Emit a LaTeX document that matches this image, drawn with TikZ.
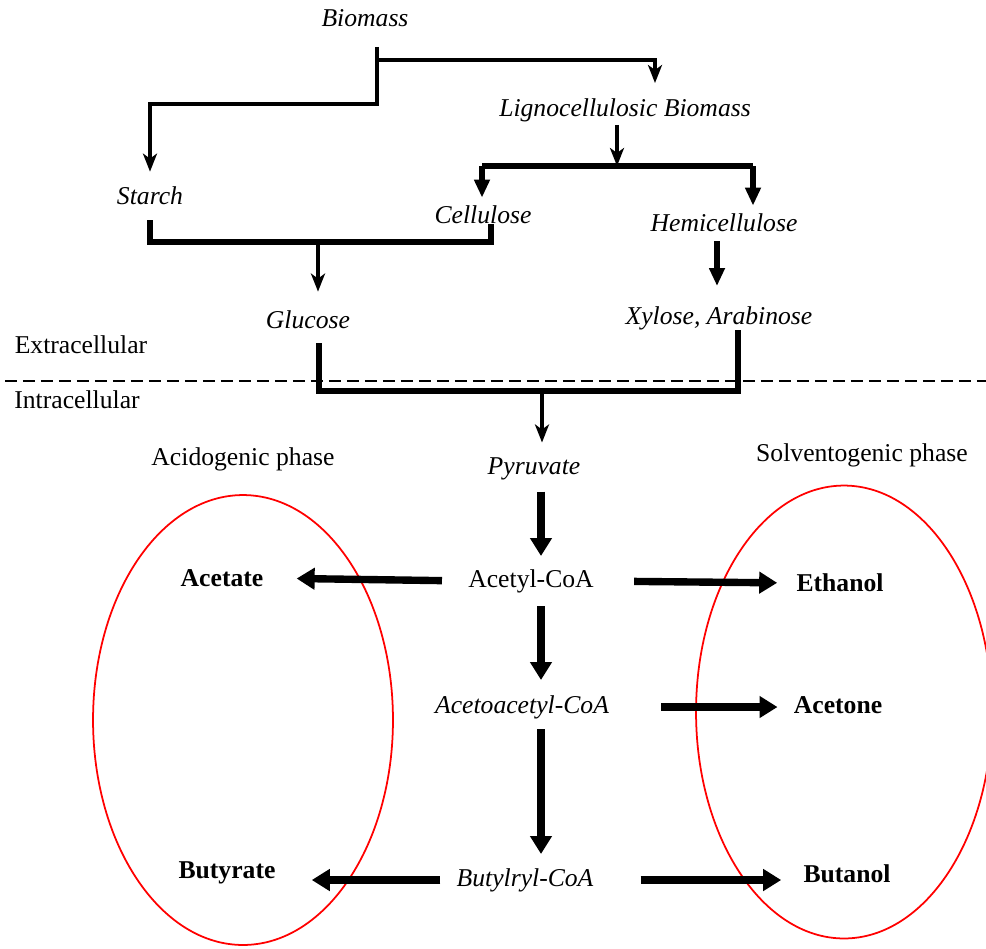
\documentclass[tikz,border=0pt]{standalone}
\usepackage{fontspec}
\setmainfont{Liberation Serif}
\usetikzlibrary{arrows.meta}

\begin{document}
\begin{tikzpicture}[x=0.02cm, y=-0.02cm,
  every node/.style={inner sep=0pt, font=\fontsize{14.6}{16}\selectfont},
  sub/.style={font=\fontsize{14.6}{16}\selectfont\itshape},
  prod/.style={font=\fontsize{14.6}{16}\selectfont\bfseries},
  thinflow/.style={line width=2.5pt, -{Stealth[length=0.36cm, width=0.28cm, inset=0.1cm]}},
  midflow/.style={line width=2.9pt, -{Triangle[length=0.36cm, width=0.3cm]}},
  fatflow/.style={line width=4.2pt, -{Triangle[length=0.36cm, width=0.42cm]}},
  bar/.style={line width=2.9pt},
  phase/.style={draw=red, line width=1pt}]
\useasboundingbox (0,0) rectangle (986,948);

% substrates
\node[sub] (biomass) at (365,18) {Biomass};
\node[sub] (ligno) at (625,110) {Lignocellulosic Biomass};
\node[sub] (starch) at (150,196) {Starch};
\node[sub] (cellulose) at (483,215) {Cellulose};
\node[sub] (hemi) at (724,223) {Hemicellulose};
\node[sub] (glucose) at (308,320) {Glucose};
\node[sub] (xylose) at (719,318) {Xylose, Arabinose};

% compartments
\node (extra) at (81,345) {Extracellular};
\node (intra) at (77,400) {Intracellular};
\draw[line width=1.6pt, dash pattern=on 0.24cm off 0.12cm] (5,381) -- (986,381);

% phases
\node (acido) at (243,459) {Acidogenic phase};
\node (solvento) at (862,455) {Solventogenic phase};
\draw[phase] (243,720) ellipse [x radius=3cm, y radius=4.5cm];
\draw[phase] (844,712) ellipse [x radius=2.96cm, y radius=4.53cm];

% metabolites
\node[sub] (pyruvate) at (534,469) {Pyruvate};
\node (acetyl) at (531,581) {Acetyl-CoA};
\node[prod] (acetate) at (222,578) {Acetate};
\node[prod] (ethanol) at (840,583) {Ethanol};
\node[sub] (acetoacetyl) at (522,707) {Acetoacetyl-CoA};
\node[prod] (acetone) at (838,705) {Acetone};
\node[sub] (butyryl) at (525,880) {Butylryl-CoA};
\node[prod] (butyrate) at (227,873) {Butyrate};
\node[prod] (butanol) at (847,874) {Butanol};

% joints
\coordinate (f1) at (377,60);
\coordinate (f1b) at (377,104);
\coordinate (f1c) at (655,60);
\coordinate (f2) at (617,166);
\coordinate (cl) at (482,166);
\coordinate (cr) at (753,166);
\coordinate (gb) at (318,242);
\coordinate (gc) at (491,242);
\coordinate (gx) at (319,391);
\coordinate (xx) at (738,391);
\coordinate (pb) at (542,391);
\coordinate (xa) at (717,0);
\coordinate (mid) at (541,0);

% upstream
\draw[thinflow, shorten <=0.4cm, shorten >=0.3cm] (biomass.south -| f1) -- (f1b) -| (starch.north);
\draw[thinflow, shorten >=0.3cm] (f1) -- (f1c) -- (f1c |- ligno.north);
\draw[thinflow, shorten <=0.06cm] (ligno.south -| f2) -- (f2);
\draw[bar] (cl) -- (cr);
\draw[midflow, shorten >=0.16cm] (cl) -- (cellulose.north -| cl);
\draw[midflow, shorten >=0.16cm] (cr) -- (hemi.north -| cr);
\draw[bar, shorten <=0.3cm] (starch.south) |- (gc) -- (cellulose.south -| gc);
\draw[thinflow, shorten >=0.38cm] (gb) -- (glucose.north -| gb);
\draw[midflow, shorten <=0.18cm, shorten >=0.4cm] (hemi.south -| xa) -- (xylose.north -| xa);
\draw[bar, shorten <=0.28cm] (glucose.south -| gx) -- (gx) -- (xx) -- (xylose.south -| xx);
\draw[thinflow, shorten >=0.3cm] (pb) -- (pyruvate.north -| pb);

% fermentation
\draw[fatflow, shorten <=0.22cm, shorten >=0.26cm] (pyruvate.south -| mid) -- (acetyl.north -| mid);
\draw[fatflow, shorten <=0.52cm, shorten >=0.66cm] (acetyl.west) -- (acetate.east);
\draw[fatflow, shorten <=0.8cm, shorten >=0.38cm] (acetyl.east) -- (ethanol.west);
\draw[fatflow, shorten <=0.26cm, shorten >=0.3cm] (acetyl.south -| mid) -- (acetoacetyl.north -| mid);
\draw[fatflow, shorten <=1.04cm, shorten >=0.32cm] (acetoacetyl.east) -- (acetoacetyl.east -| acetone.west);
\draw[fatflow, shorten <=0.2cm, shorten >=0.28cm] (acetoacetyl.south -| mid) -- (butyryl.north -| mid);
\draw[fatflow, shorten <=0.32cm, shorten >=0.72cm] (butyryl.west) -- (butyryl.west -| butyrate.east);
\draw[fatflow, shorten <=0.94cm, shorten >=0.44cm] (butyryl.east) -- (butyryl.east -| butanol.west);
\end{tikzpicture}
\end{document}
